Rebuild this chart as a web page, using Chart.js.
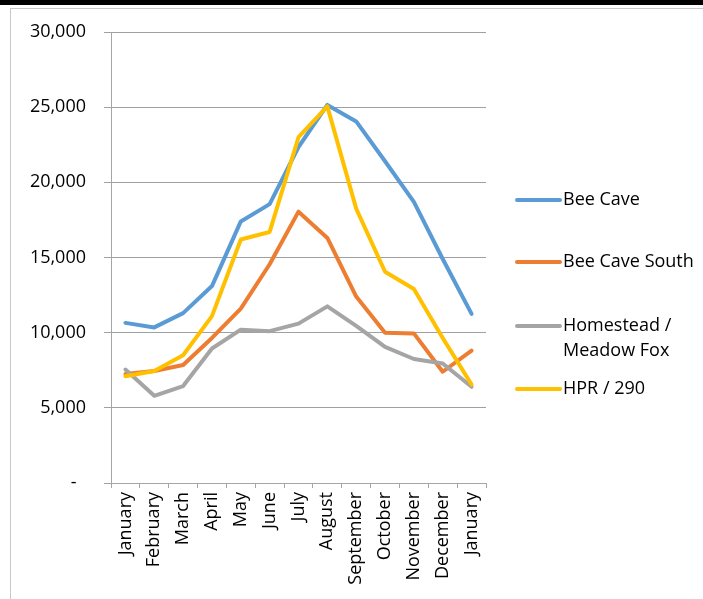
<!DOCTYPE html>
<html>
<head>
<meta charset="utf-8">
<script src="https://cdn.jsdelivr.net/npm/chart.js@4.4.0/dist/chart.umd.min.js"></script>
<style>
  html, body { margin: 0; padding: 0; background: #fff; }
  body { width: 703px; height: 599px; overflow: hidden; position: relative; }
  #topbar { position: absolute; left: 0; top: 0; width: 703px; height: 5px; background: #000; }
  #frame { position: absolute; left: 10px; top: 8px; width: 800px; height: 700px; border: 1px solid #c8c8c8; }
  #wrap { position: absolute; left: 0; top: 0; width: 703px; height: 599px; }
</style>
</head>
<body>
<div id="topbar"></div>
<div id="frame"></div>
<div id="wrap"><canvas id="chart" width="703" height="599"></canvas></div>
<script>
const months = ['January', 'February', 'March', 'April', 'May', 'June', 'July',
    'August', 'September', 'October', 'November', 'December', 'January'];

const beeCave      = [10650, 10350, 11300, 13100, 17400, 18550, 22350, 25150, 24050, 21400, 18700, 14900, 11250];
const beeCaveSouth = [7250, 7450, 7850, 9650, 11600, 14550, 18050, 16300, 12400, 10000, 9950, 7400, 8800];
const homestead    = [7550, 5800, 6450, 8950, 10200, 10100, 10600, 11750, 10450, 9050, 8250, 7950, 6400];
const hpr290       = [7100, 7450, 8500, 11100, 16200, 16700, 23000, 25050, 18250, 14050, 12900, 9650, 6550];

const seriesNames = ['Bee Cave', 'Bee Cave South', 'Homestead /\nMeadow Fox', 'HPR / 290'];
const seriesColors = ['#5B9BD5', '#ED7D31', '#A5A5A5', '#FFC000'];

const yMax = 30000;
const yStep = 5000;

Chart.defaults.font.family = '"Open Sans", sans-serif';
Chart.defaults.font.size = 18;
Chart.defaults.color = '#000';

// legend drawn by hand so the two-line label sits like the original
const sideLegend = {
    id: 'sideLegend',
    afterDraw(chart, args, opts) {
        const ctx = chart.ctx;
        ctx.save();
        chart.data.datasets.forEach((ds, i) => {
            const y = opts.rows[i];
            ctx.strokeStyle = ds.borderColor;
            ctx.lineWidth = 4;
            ctx.lineCap = 'round';
            ctx.beginPath();
            ctx.moveTo(opts.x0, y);
            ctx.lineTo(opts.x1, y);
            ctx.stroke();
            ctx.fillStyle = '#000';
            ctx.font = '18px "Open Sans", sans-serif';
            ctx.textBaseline = 'middle';
            ds.label.split('\n').forEach((line, k) => {
                ctx.fillText(line, opts.x1 + 3, y + k * opts.lineGap);
            });
        });
        ctx.restore();
    }
};

const lineStyle = (i) => ({
    label: seriesNames[i],
    borderColor: seriesColors[i],
    backgroundColor: seriesColors[i],
    borderWidth: 4,
    pointRadius: 0,
    tension: 0,
    borderCapStyle: 'round',
    borderJoinStyle: 'round',
    order: 3 - i
});

new Chart(document.getElementById('chart'), {
    type: 'line',
    data: {
        labels: months,
        datasets: [
            { ...lineStyle(0), data: beeCave },
            { ...lineStyle(1), data: beeCaveSouth },
            { ...lineStyle(2), data: homestead },
            { ...lineStyle(3), data: hpr290 }
        ]
    },
    options: {
        responsive: false,
        animation: false,
        layout: { padding: { left: 0, top: 32, right: 217, bottom: 0 } },
        plugins: {
            legend: { display: false },
            tooltip: { enabled: false },
            sideLegend: { x0: 517, x1: 560, rows: [200, 262, 326, 389], lineGap: 25 }
        },
        scales: {
            x: {
                offset: true,
                grid: { offset: true, drawOnChartArea: false, color: '#a6a6a6', tickLength: 5 },
                border: { color: '#a6a6a6' },
                ticks: { minRotation: 90, maxRotation: 90, autoSkip: false, padding: 4 },
                afterFit(scale) { scale.height = 116; }
            },
            y: {
                min: 0,
                max: yMax,
                ticks: {
                    stepSize: yStep,
                    padding: 18,
                    callback: (v) => v === 0 ? '-  ' : v.toLocaleString('en-US')
                },
                grid: { color: '#a0a0a0', tickLength: 7 },
                border: { color: '#a6a6a6' },
                afterFit(scale) { scale.width = 111; }
            }
        }
    },
    plugins: [sideLegend]
});
</script>
</body>
</html>
